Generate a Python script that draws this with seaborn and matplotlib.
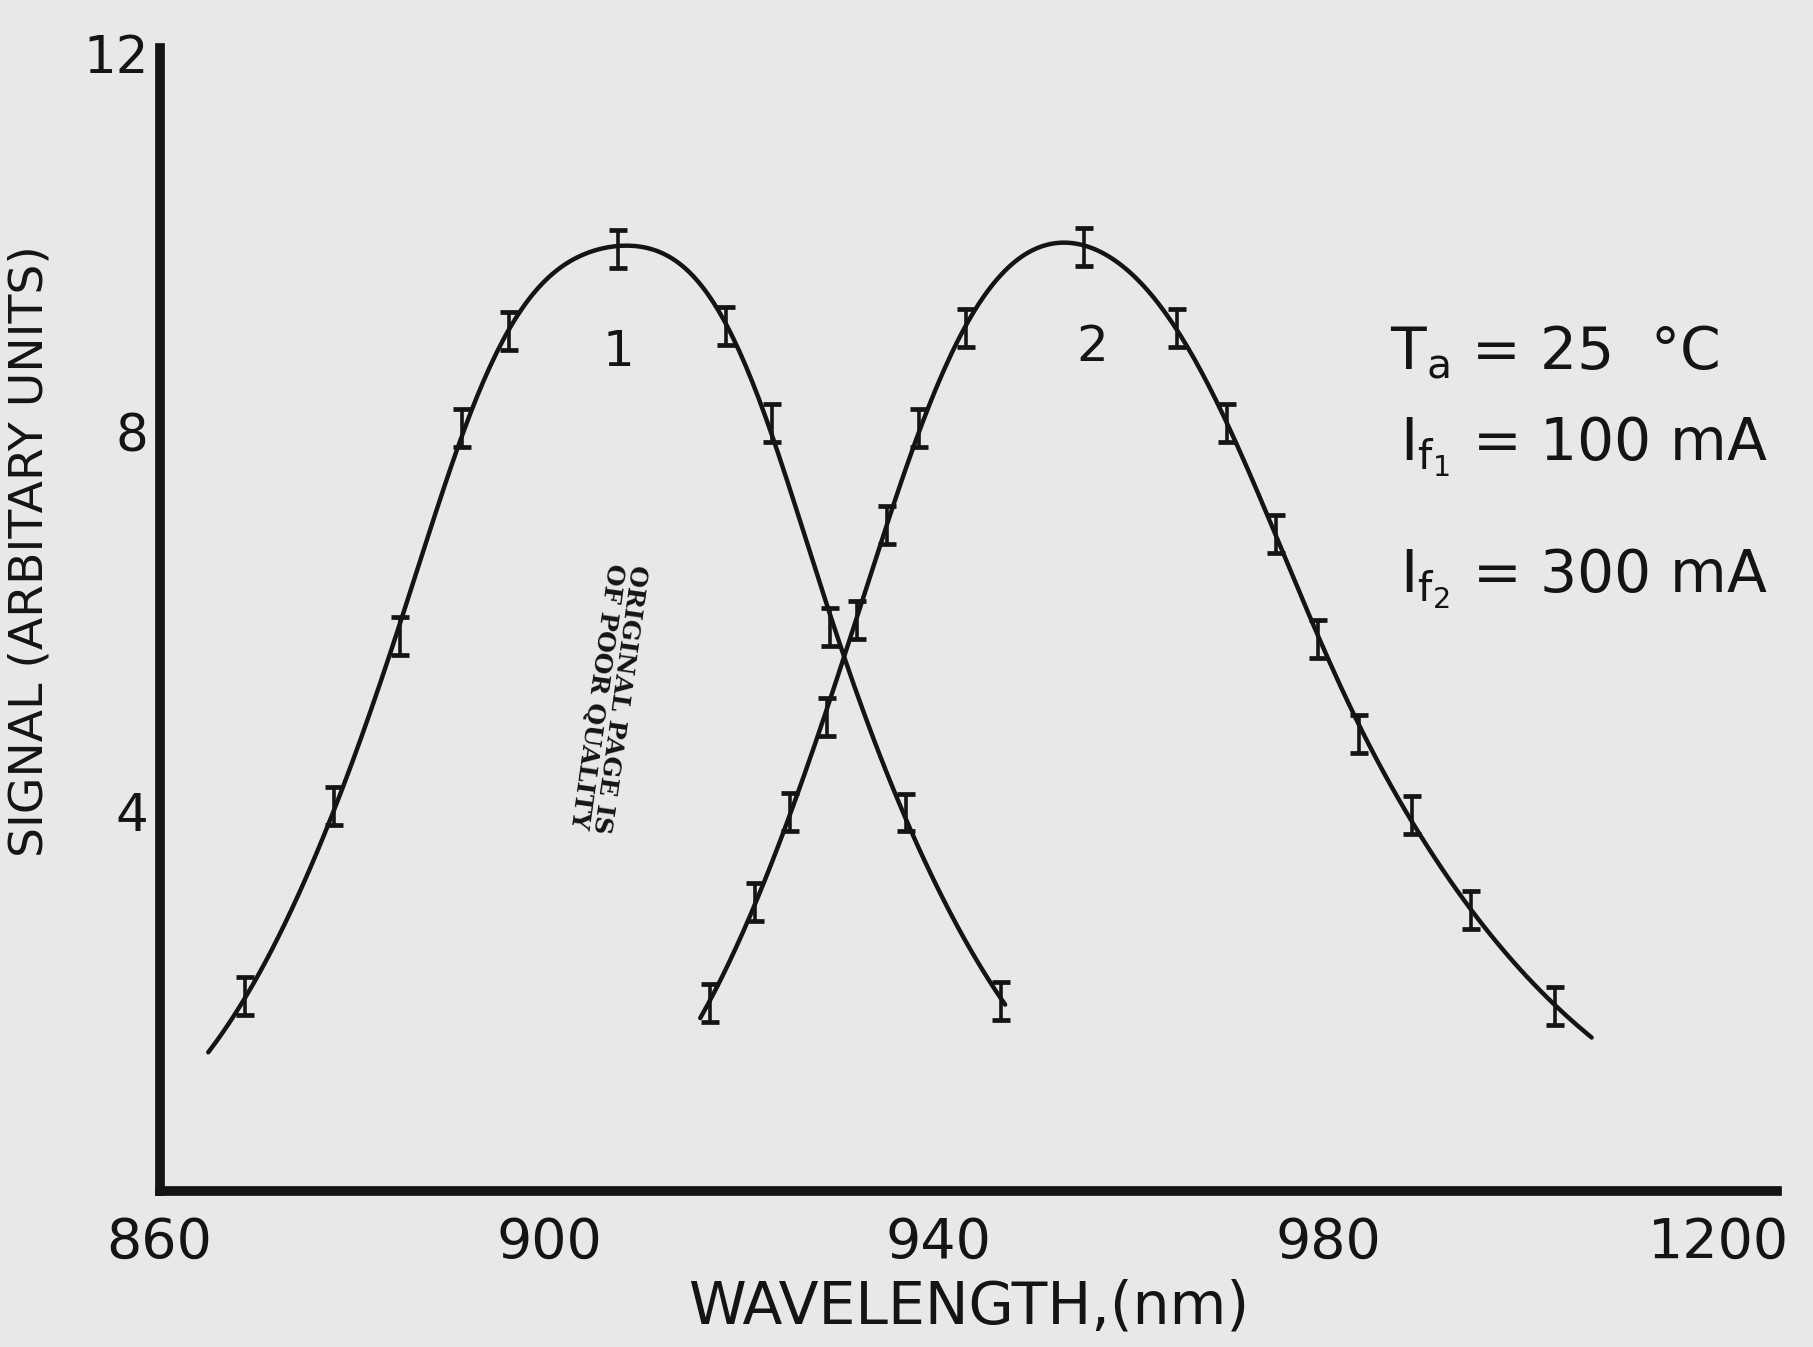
import numpy as np
import pandas as pd
import matplotlib
matplotlib.use("Agg")
import matplotlib.pyplot as plt
import seaborn as sns

# ── data ──────────────────────────────────────────────────
# curve 1 (If1 = 100 mA)
wl_1 = [868.8, 877.9, 884.7, 891.0, 895.9, 907.1, 918.1, 922.9, 928.8, 936.6, 946.4]
sig_1 = [2.05, 4.06, 5.85, 8.05, 9.07, 9.93, 9.12, 8.10, 5.95, 3.99, 2.00]
# curve 2 (If2 = 300 mA)
wl_2 = [916.5, 921.1, 924.7, 928.5, 931.6, 934.7, 938.0, 942.8, 954.9, 964.4,
        969.6, 974.6, 978.9, 983.1, 988.6, 994.6, 1003.2]
sig_2 = [1.98, 3.05, 4.00, 5.00, 6.02, 7.02, 8.05, 9.10, 9.96, 9.10,
         8.10, 6.93, 5.82, 4.82, 3.96, 2.96, 1.95]
err = 0.2
# where the hand-drawn smooth lines start and stop
span_1 = (865.0, 946.8)
span_2 = (915.5, 1007.0)

x_ticks = [860, 880, 900, 920, 940, 960, 980, 1000, 1020]
x_labels = ["860", "", "900", "", "940", "", "980", "", "1200"]
y_major = [4, 8, 12]
y_minor = [2, 6, 10]

paper = "#e8e8e6"
ink = "#141414"

sns.set_style("white")
plt.rcParams["font.family"] = ["DejaVu Sans"]
plt.rcParams["mathtext.fontset"] = "dejavusans"

fig = plt.figure(figsize=(18.13, 13.47), dpi=100, facecolor=paper)
ax = fig.add_axes([0.088, 0.116, 0.892, 0.848], facecolor=paper)


def smooth_curve(x, y, span, stiff=2e4, n=250):
    # penalised smoothing of log(signal) on a grid: third differences are
    # penalised, so a gaussian-like hump is kept while small wobbles go away
    xs = np.linspace(span[0], span[1], n)
    h = xs[1] - xs[0]
    W = np.zeros(n)
    z = np.zeros(n)
    for xi, yi in zip(x, y):
        k = int(np.argmin(np.abs(xs - xi)))
        W[k] += yi ** 2
        z[k] += yi ** 2 * np.log(yi)
    D = np.diff(np.eye(n), 3, axis=0)
    lam = stiff / h ** 5
    g = np.linalg.solve(np.diag(W) + lam * D.T @ D, z)
    return pd.DataFrame({"wl": xs, "sig": np.exp(g)})


for wl, sig, span in [(wl_1, sig_1, span_1), (wl_2, sig_2, span_2)]:
    fit = smooth_curve(wl, sig, span)
    sns.lineplot(data=fit, x="wl", y="sig", ax=ax, color=ink, lw=3.2,
                 estimator=None, sort=False)
    ax.errorbar(wl, sig, yerr=err, fmt="none", ecolor=ink, elinewidth=2.6,
                capsize=6.5, capthick=3.4)

ax.set_xlim(860, 1026)
ax.set_ylim(0, 12.05)

for side in ["top", "right"]:
    ax.spines[side].set_visible(False)
for side in ["left", "bottom"]:
    ax.spines[side].set_linewidth(7)
    ax.spines[side].set_color(ink)

ax.set_xticks(x_ticks)
ax.set_xticklabels(x_labels)
ax.set_yticks(y_major)
ax.set_yticklabels([str(v) for v in y_major])
ax.set_yticks(y_minor, minor=True)
ax.tick_params(axis="both", which="both", direction="in", color=ink, width=2.2,
               labelcolor=ink)
ax.tick_params(axis="x", which="major", length=12, pad=18, labelsize=40)
ax.tick_params(axis="y", which="major", length=10, pad=8, labelsize=37)
ax.tick_params(axis="y", which="minor", length=10)

ax.set_xlabel("WAVELENGTH,(nm)", fontsize=42, color=ink, labelpad=6)
ax.set_ylabel("SIGNAL (ARBITARY UNITS)", fontsize=34, color=ink)
ax.yaxis.set_label_coords(-0.066, 0.56)

# curve numbers
ax.text(907.1, 8.85, "1", fontsize=36, color=ink, ha="center", va="center")
ax.text(955.7, 8.9, "2", fontsize=36, color=ink, ha="center", va="center")

# operating conditions
ax.text(986.3, 8.85, r"$\mathregular{T_a}$ = 25  °C", fontsize=42, color=ink, va="center")
ax.text(987.3, 7.85, r"$\mathregular{I_{f_1}}$ = 100 mA", fontsize=42, color=ink, va="center")
ax.text(987.3, 6.45, r"$\mathregular{I_{f_2}}$ = 300 mA", fontsize=42, color=ink, va="center")

# stamp
ax.text(906.0, 5.2, "ORIGINAL PAGE IS\nOF POOR QUALITY", rotation=-98,
        family="DejaVu Serif", fontweight="bold", fontsize=18, color=ink,
        ha="center", va="center", linespacing=1.0)

fig.savefig("out.png", dpi=100, facecolor=paper)
